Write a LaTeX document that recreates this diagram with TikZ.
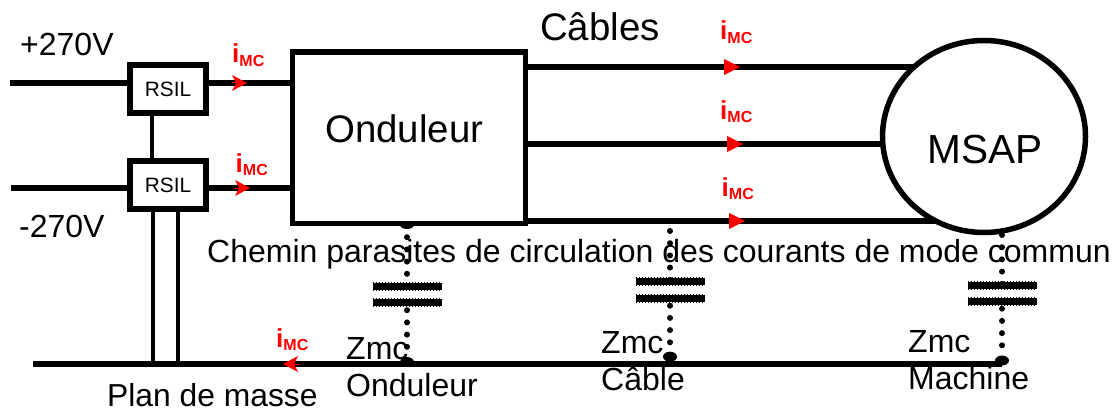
\documentclass[tikz,border=0pt]{standalone}
\usepackage{fontspec}
\setmainfont{Liberation Sans}
\usetikzlibrary{arrows.meta,shapes.geometric}
\newcommand{\imclabel}{{\fontsize{26}{26}\selectfont i}\raisebox{-3.5pt}{\fontsize{16}{16}\selectfont MC}}
\tikzset{wire/.style={line width=5.5pt}}
\tikzset{link/.style={line width=4pt}}
\tikzset{rsil/.style={
  rectangle,
  draw,line width=5.5pt,fill=white,
  inner sep=0pt,outer sep=0pt,minimum width=76pt,minimum height=48pt,
  font=\fontsize{20.8}{24}\selectfont}}
\tikzset{caption/.style={anchor=base west,inner sep=0pt,font=\fontsize{32}{37}\selectfont}}
\tikzset{bigcaption/.style={caption,font=\fontsize{38.4}{40}\selectfont}}
\tikzset{zmc/.style={anchor=south west,inner sep=0pt,align=left,font=\fontsize{32}{37}\selectfont}}
\tikzset{imc/.style={anchor=base west,inner sep=0pt,text=red,font=\bfseries}}
\tikzset{plate/.style={line width=7pt}}
\tikzset{platedge/.style={line width=9pt,dash pattern=on 1.5pt off 1.5pt}}
\tikzset{leak/.style={line width=6pt,line cap=round,dash pattern=on 0pt off 12.2pt}}
\tikzset{junction/.style={ellipse,fill=black,inner sep=0pt,minimum width=14pt,minimum height=10pt}}
\tikzset{flow/.style={red,line width=0pt,-{Triangle[length=16pt,width=16pt]}}}
\tikzset{flowin/.style={red,line width=0pt,-{Stealth[length=15pt,width=16pt,inset=4pt]}}}

\begin{document}
\begin{tikzpicture}[x={(1pt,0pt)},y={(0pt,-1pt)}]
  \useasboundingbox (0,0) rectangle (1115,409);
  \coordinate (vplus) at (10,83);
  \coordinate (vminus) at (11,188);
  \coordinate (ground) at (33,364);
  \coordinate (msapc) at (984,136.5);
  \foreach \n/\y in {phasea/67,phaseb/144,phasec/221}
    \coordinate (\n) at (527,\y);
  \node[rsil] (rsilp) at (168,89) {RSIL\hspace{5pt}};
  \node[rsil] (rsilm) at (168,185) {RSIL\hspace{5pt}};
  \node[rectangle,draw,line width=5.5pt,inner sep=0pt,outer sep=0pt,
    minimum width=233pt,minimum height=171.5pt] (onduleur) at (409,137.75) {};
  \foreach \n in {phasea,phaseb,phasec}
    \draw[wire] (\n) -- (\n -| msapc);
  \node[ellipse,draw,line width=5.5pt,fill=white,inner sep=0pt,outer sep=0pt,
    minimum width=203pt,minimum height=192pt] (msap) at (msapc) {};
  \draw[wire,line width=6pt] (vplus) -- (vplus -| rsilp.west);
  \draw[wire] (vplus -| rsilp.east) -- (vplus -| onduleur.west);
  \draw[wire,line width=6pt] (vminus) -- (vminus -| rsilm.west);
  \draw[wire,line width=6pt] (vminus -| rsilm.east) -- (vminus -| onduleur.west);
  \draw[link] (rsilp.south -| 152,0) -- (rsilm.north -| 152,0);
  \foreach \x in {153,178}
    \draw[link] (rsilm.south -| \x,0) -- (ground -| \x,0);
  \foreach \n/\x/\t/\p/\q/\g in {
      ond/407/225/286/302.5/362,
      cab/670/231/281/298/356.7,
      mac/1002/235/285/301/360.5} {
    \coordinate (\n-top) at (\x,\t);
    \coordinate (\n-platea) at (\x,\p);
    \coordinate (\n-plateb) at (\x,\q);
    \node[junction] (\n-gnd) at (\x,\g) {};
    \draw[leak] (\n-top) -- (\n-platea);
    \draw[leak,dash phase=4.5pt] (\n-plateb) -- (\n-gnd);
    \foreach \s in {platea,plateb} {
      \draw[plate] ([xshift=-34.5pt]\n-\s) -- ([xshift=34.5pt]\n-\s);
      \draw[platedge] ([xshift=-34.5pt]\n-\s) -- ([xshift=34.5pt]\n-\s);
    }
  }
  \node[junction,minimum height=8pt] (ondtop) at (ond-top) {};
  \draw[wire] (ground) -- (ground -| mac-gnd);
  \foreach \w/\x in {phasea/724,phaseb/727,phasec/729}
    \draw[flow] (\x,0 |- \w) -- ++(16,0);
  \draw[flowin] (232,0 |- vplus) -- ++(15,0);
  \draw[flowin] (235,0 |- vminus) -- ++(15,0);
  \draw[flowin] (299,0 |- ground) -- ++(-16,0);
  \foreach \n/\p in {
      a/{(232,63)},
      b/{(235.5,172)},
      c/{(720,40)},
      d/{(720,119)},
      e/{(721.5,196)},
      f/{(276,347)}}
    \node[imc] (imc\n) at \p {\imclabel};
  \node[caption] (plus) at (20,56) {+270V};
  \node[caption] (minus) at (19,237.5) {-270V};
  \node[bigcaption] (cables) at (540,41) {Câbles};
  \node[bigcaption] (ondtext) at (325,142) {Onduleur};
  \node[bigcaption,font=\fontsize{40.6}{42}\selectfont] (msaptext) at (927,163) {MSAP};
  \node[caption] (chemin) at (207,262)
    {Chemin parasites de circulation des courants de mode commun};
  \node[caption,font=\fontsize{31.8}{37}\selectfont] (plan) at (107,406) {Plan de masse};
  \node[zmc] (zmcond) at (346,397) {Zmc\\Onduleur};
  \node[zmc] (zmccab) at (601,391.5) {Zmc\\Câble};
  \node[zmc] (zmcmac) at (908,390.5) {Zmc\\Machine};
\end{tikzpicture}
\end{document}
